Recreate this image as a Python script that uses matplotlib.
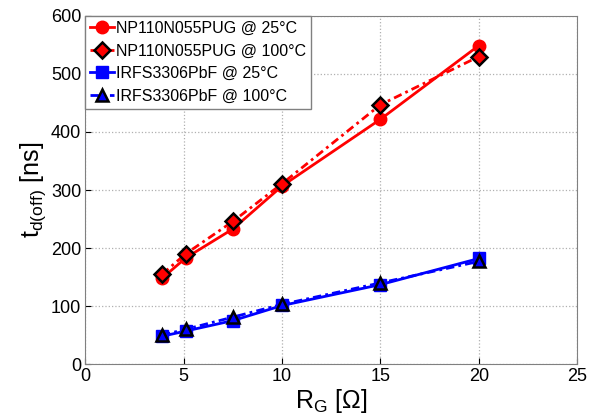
import matplotlib
matplotlib.use("Agg")
import matplotlib.pyplot as plt

plt.rcParams["font.family"] = ["Liberation Sans", "DejaVu Sans"]
plt.rcParams["mathtext.fontset"] = "custom"
plt.rcParams["mathtext.rm"] = "Liberation Sans"

rg = [3.9, 5.1, 7.5, 10, 15, 20]
np_25 = [148, 183, 233, 307, 422, 549]
np_100 = [155, 190, 246, 311, 447, 530]
irf_25 = [48, 57, 75, 101, 137, 182]
irf_100 = [50, 60, 81, 103, 140, 177]

fig = plt.figure(figsize=(5.89, 4.19), dpi=100)
ax = fig.add_axes([0.145, 0.131, 0.835, 0.831])

dashdot = (3, 1.5, 1, 1.5)
ax.plot(rg, np_25, "-", color="red", lw=2, marker="o", ms=9,
        mfc="red", mec="red", label="NP110N055PUG @ 25°C")
ax.plot(rg, np_100, color="red", lw=2, dashes=dashdot, marker="D", ms=8,
        mfc="red", mec="black", mew=1.8, label="NP110N055PUG @ 100°C")
ax.plot(rg, irf_25, "-", color="blue", lw=2, marker="s", ms=8,
        mfc="blue", mec="blue", label="IRFS3306PbF @ 25°C")
ax.plot(rg, irf_100, color="blue", lw=2, dashes=dashdot, marker="^", ms=9,
        mfc="blue", mec="black", mew=1.8, label="IRFS3306PbF @ 100°C")

ax.set_xlim(0, 25)
ax.set_ylim(0, 600)
ax.set_xticks([0, 5, 10, 15, 20, 25])
ax.set_yticks([0, 100, 200, 300, 400, 500, 600])
ax.grid(True, linestyle=":", color="#b0b0b0", lw=0.9)
ax.tick_params(direction="in", labelsize=13, length=4)
ax.tick_params(axis="x", pad=3)
ax.tick_params(axis="y", pad=3)
for s in ax.spines.values():
    s.set_color("#808080")

ax.set_xlabel(r"R$_\mathregular{G}$ [Ω]", fontsize=18, labelpad=1)
ax.set_ylabel(r"t$_\mathregular{d(off)}$ [ns]", fontsize=18, labelpad=2)

leg = ax.legend(loc="upper left", fontsize=11.5, handlelength=1.5,
                handletextpad=0.1, borderpad=0.3, labelspacing=0.48,
                borderaxespad=0, fancybox=False, framealpha=1)
leg.get_frame().set_edgecolor("#808080")

fig.savefig("out.png", dpi=100)
